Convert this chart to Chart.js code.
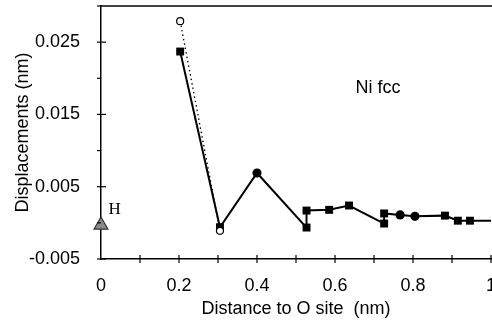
<!DOCTYPE html>
<html>
<head>
<meta charset="utf-8">
<script src="https://cdn.jsdelivr.net/npm/chart.js@4"></script>
<style>
  html, body { margin: 0; padding: 0; background: #fff; }
  #wrap { width: 492px; height: 322px; }
</style>
</head>
<body>
<div id="wrap"><canvas id="dispChart" width="492" height="322"></canvas></div>
<script>
// distance to O site (nm) and displacement (nm)
const calcDistance = [0.203, 0.305, 0.4, 0.527, 0.527, 0.585, 0.636, 0.726, 0.726, 0.767, 0.805, 0.882, 0.915, 0.946, 1.0];
const calcDisp = [0.0237, -0.0006, 0.0069, -0.00065, 0.0017, 0.0018, 0.0024, -0.0001, 0.0013, 0.0011, 0.0009, 0.001, 0.0003, 0.0003, 0.0003];
const calcMarker = ['rect', 'rect', 'circle', 'rect', 'rect', 'rect', 'rect', 'rect', 'rect', 'circle', 'circle', 'rect', 'rect', 'rect', 'rect'];

// open circles joined by the dotted line
const openDistance = [0.203, 0.305];
const openDisp = [0.0279, -0.0011];

// H site
const hDistance = [0];
const hDisp = [-0.0003];

const xTicks = ['0', '0.2', '0.4', '0.6', '0.8', '1'];
const yTicks = ['-0.005', '0.005', '0.015', '0.025'];

const toPoints = (xs, ys) => xs.map((x, i) => ({ x: x, y: ys[i] }));

Chart.defaults.font.family = "'Liberation Sans', Arial, sans-serif";
Chart.defaults.font.size = 18;
Chart.defaults.color = '#000';

// draws the tick marks across the axes, the top frame line and the two notes
const framePlugin = {
    id: 'frame',
    afterDraw(chart) {
        const ctx = chart.ctx;
        const area = chart.chartArea;
        const xs = chart.scales.x;
        const ys = chart.scales.y;
        ctx.save();
        ctx.strokeStyle = '#000';
        ctx.lineWidth = 1.5;
        ctx.beginPath();
        ctx.moveTo(area.left, area.top);
        ctx.lineTo(area.right + 2, area.top);
        ctx.stroke();

        ctx.lineWidth = 1.2;
        for (let i = 1; i <= 10; i++) {
            const px = xs.getPixelForValue(i / 10);
            ctx.beginPath();
            ctx.moveTo(px, area.bottom - 4);
            ctx.lineTo(px, area.bottom + 4);
            ctx.stroke();
        }
        for (let i = -1; i <= 6; i++) {
            const py = ys.getPixelForValue(i * 0.005);
            const major = Math.abs(i % 2) === 1;
            ctx.beginPath();
            ctx.moveTo(area.left - 4, py);
            ctx.lineTo(area.left + (major ? 5 : 0), py);
            ctx.stroke();
        }

        ctx.fillStyle = '#000';
        ctx.textAlign = 'center';
        ctx.textBaseline = 'middle';
        ctx.font = "18px 'Liberation Sans', Arial, sans-serif";
        ctx.fillText('Ni fcc', xs.getPixelForValue(0.71), ys.getPixelForValue(0.0186));
        ctx.font = "17px 'Liberation Serif', 'Times New Roman', serif";
        ctx.fillText('H', xs.getPixelForValue(0.035), ys.getPixelForValue(0.0019));
        ctx.restore();
    }
};

new Chart(document.getElementById('dispChart'), {
    type: 'scatter',
    data: {
        datasets: [
            {
                label: 'open',
                data: toPoints(openDistance, openDisp),
                showLine: true,
                borderColor: '#000',
                borderWidth: 1.3,
                borderDash: [1.5, 3],
                pointStyle: 'circle',
                pointRadius: 3.5,
                pointBorderWidth: 1.2,
                pointBackgroundColor: '#fff',
                pointBorderColor: '#000'
            },
            {
                label: 'calc',
                data: toPoints(calcDistance, calcDisp),
                showLine: true,
                borderColor: '#000',
                borderWidth: 2,
                pointStyle: calcMarker,
                pointRadius: calcDistance.map((x, i) => i === calcDistance.length - 1 ? 0 : (calcMarker[i] === 'rect' ? 5.6 : 4.6)),
                pointBackgroundColor: '#000',
                pointBorderColor: '#000',
                pointBorderWidth: 0
            },
            {
                label: 'H',
                data: toPoints(hDistance, hDisp),
                pointStyle: 'triangle',
                pointRadius: 8,
                pointBackgroundColor: '#8a8a8a',
                pointBorderColor: '#333',
                pointBorderWidth: 1.2
            }
        ]
    },
    options: {
        responsive: false,
        animation: false,
        clip: false,
        layout: { autoPadding: false, padding: { top: 6, right: 1, left: 0, bottom: 0 } },
        plugins: {
            legend: { display: false },
            tooltip: { enabled: false }
        },
        scales: {
            x: {
                type: 'linear',
                min: 0,
                max: 1,
                grid: { display: false },
                border: { display: true, color: '#000', width: 1.5 },
                ticks: {
                    stepSize: 0.1,
                    maxRotation: 0,
                    autoSkip: false,
                    padding: 8,
                    callback: function (value) {
                        const k = Math.round(value * 10);
                        return k % 2 === 0 ? xTicks[k / 2] : '';
                    }
                },
                title: {
                    display: true,
                    text: 'Distance to O site  (nm)',
                    padding: { top: 0, bottom: 2 }
                },
                afterFit: function (scale) {
                    scale.height = 63;
                    scale.paddingLeft = 0;
                    scale.paddingRight = 0;
                }
            },
            y: {
                type: 'linear',
                min: -0.005,
                max: 0.03,
                grid: { display: false },
                border: { display: true, color: '#000', width: 1.5 },
                ticks: {
                    stepSize: 0.005,
                    autoSkip: false,
                    padding: 13,
                    callback: function (value) {
                        const k = Math.round(value * 1000);
                        return k % 10 !== 0 ? yTicks[(k + 5) / 10] : '';
                    }
                },
                title: {
                    display: true,
                    text: 'Displacements (nm)',
                    padding: { top: 12, bottom: 0 }
                },
                afterFit: function (scale) {
                    scale.width = 101;
                    scale.paddingTop = 0;
                    scale.paddingBottom = 0;
                }
            }
        }
    },
    plugins: [framePlugin]
});
</script>
</body>
</html>
